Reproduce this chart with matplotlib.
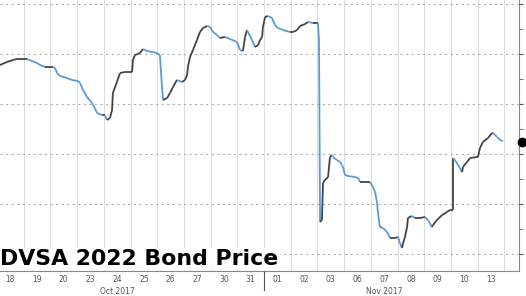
import numpy as np
import matplotlib
matplotlib.use("Agg")
import matplotlib.pyplot as plt
from matplotlib.collections import LineCollection

##Bond price, x is trading-day position (day k spans k..k+1)
day_pos = [0.11, 0.37, 0.60, 0.75, 1.12, 1.31, 1.50, 1.61, 1.80, 2.10,
           2.17, 2.25, 2.36, 2.62, 2.81, 3.03, 3.11, 3.22, 3.37, 3.56,
           3.75, 3.93, 4.04, 4.12, 4.23, 4.31, 4.34, 4.49, 4.61, 4.79,
           5.06, 5.09, 5.17, 5.36, 5.47, 5.62, 5.84, 5.99, 6.10, 6.18,
           6.22, 6.37, 6.48, 6.59, 6.74, 6.93, 7.04, 7.12, 7.15, 7.23,
           7.34, 7.49, 7.60, 7.72, 7.87, 7.98, 8.09, 8.24, 8.35, 8.54,
           8.73, 8.99, 9.10, 9.21, 9.29, 9.36, 9.40, 9.55, 9.66, 9.78,
           9.85, 9.93, 9.96, 10.04, 10.15, 10.30, 10.41, 10.52, 10.71, 10.97,
           11.09, 11.24, 11.35, 11.54, 11.65, 11.84, 11.99, 12.02, 12.06, 12.10,
           12.17, 12.21, 12.28, 12.40, 12.47, 12.55, 12.58, 12.73, 12.85, 12.92,
           12.96, 13.03, 13.15, 13.41, 13.52, 13.60, 13.97, 14.08, 14.16, 14.23,
           14.27, 14.34, 14.46, 14.61, 14.72, 14.91, 15.02, 15.09, 15.17, 15.21,
           15.28, 15.36, 15.39, 15.54, 15.66, 15.84, 16.03, 16.14, 16.29, 16.33,
           16.48, 16.67, 16.85, 16.97, 17.08, 17.08, 17.15, 17.27, 17.42, 17.45,
           17.60, 17.72, 17.98, 18.01, 18.09, 18.20, 18.39, 18.54, 18.58, 18.73,
           18.84, 18.95]
price = [98.9, 99.2, 99.4, 99.5, 99.5, 99.3, 99.1, 98.9, 98.7, 98.7,
         98.6, 98.1, 97.8, 97.6, 97.4, 97.3, 97.1, 96.4, 95.7, 95.1,
         94.1, 93.9, 93.9, 93.4, 93.6, 94.4, 96.1, 97.2, 98.1, 98.2,
         98.2, 99.4, 99.9, 100.1, 100.5, 100.3, 100.2, 100.1, 99.9, 96.7,
         95.4, 95.6, 96.1, 96.7, 97.4, 97.2, 97.4, 97.9, 98.7, 99.7,
         100.4, 101.4, 102.2, 102.6, 102.8, 102.7, 102.2, 101.9, 101.6, 101.7,
         101.5, 101.2, 100.4, 100.3, 101.7, 102.4, 102.2, 101.4, 100.7, 100.9,
         101.4, 101.7, 102.7, 103.7, 103.8, 103.6, 102.9, 102.6, 102.4, 102.2,
         102.2, 102.4, 102.8, 103.0, 103.2, 103.1, 103.1, 103.1, 101.4, 83.2,
         83.4, 87.1, 87.4, 87.7, 89.7, 89.9, 89.7, 89.4, 89.2, 88.9,
         88.7, 87.9, 87.8, 87.7, 87.6, 87.2, 87.2, 86.7, 86.2, 85.2,
         84.1, 82.7, 82.6, 82.2, 81.6, 81.6, 81.7, 81.1, 80.6, 81.1,
         81.7, 82.7, 83.6, 83.8, 83.6, 83.6, 83.7, 83.4, 82.7, 82.9,
         83.4, 83.9, 84.2, 84.4, 84.4, 89.6, 89.4, 88.9, 88.2, 88.7,
         89.2, 89.6, 89.7, 89.7, 90.6, 91.2, 91.6, 92.1, 92.1, 91.7,
         91.4, 91.3]

day_labels = ["18", "19", "20", "23", "24", "25", "26", "27", "30", "31",
              "01", "02", "03", "06", "07", "08", "09", "10", "13"]
month_labels = ["Oct 2017", "Nov 2017"]
month_centers = [4.5, 14.5]
month_split = 10
y_major = [80, 85, 90, 95, 100, 105]
y_minor = [82.5, 87.5, 92.5, 97.5, 102.5]
last_price = 91.2

fig = plt.figure(figsize=(5.26, 2.96), dpi=100)
ax = fig.add_axes([0, 25 / 296, 519 / 526, 271 / 296])

x0 = 3 / 26.7

##Grid
for k in range(1, len(day_labels) + 1):
    ax.axvline(k, color="#dcdcdc", lw=0.7, zorder=1)
for yv in y_major:
    ax.axhline(yv, color="#b0b0b0", lw=0.8, ls=(0, (2, 3)), zorder=1)

##Line coloured by direction
pts = np.column_stack([day_pos, price])
segs = np.stack([pts[:-1], pts[1:]], axis=1)
diff = np.diff(price)
cols = ["#5b9bd5" if d < 0 else "#444444" for d in diff]
lc = LineCollection(segs, colors=cols, linewidths=1.3, zorder=3)
ax.add_collection(lc)

##Last price marker on right axis
ax.plot([x0 + 522 / 26.7], [last_price], "o", color="black", ms=6,
        clip_on=False, zorder=5)

##Axes styling
for s in ["top", "left"]:
    ax.spines[s].set_visible(False)
ax.spines["bottom"].set_color("#888888")
ax.spines["right"].set_color("#888888")
ax.yaxis.tick_right()
ax.set_yticks(y_major)
ax.set_yticks(y_minor, minor=True)
ax.tick_params(axis="y", which="both", length=3, color="#555555",
               labelright=False)
ax.set_xticks([k + 0.5 for k in range(len(day_labels))])
ax.set_xticklabels(day_labels, fontsize=5.5, color="#555555")
ax.tick_params(axis="x", length=0, pad=3)

ax.set_xlim(x0, x0 + 519 / 26.7)
ax.set_ylim(80 - 17 / 10, 80 + 254 / 10)

for lab, c in zip(month_labels, month_centers):
    ax.text(c, -0.06, lab, transform=ax.get_xaxis_transform(),
            ha="center", va="top", fontsize=5.5, color="#555555")
ax.plot([month_split, month_split], [0, -0.07], transform=ax.get_xaxis_transform(),
        color="#555555", lw=0.8, clip_on=False)

fig.text(0.0, (296 - 259) / 296, "DVSA 2022 Bond Price", fontsize=15.8,
         fontweight="bold", color="black", ha="left", va="center",
         bbox=dict(facecolor="white", edgecolor="none", pad=1))

fig.savefig("out.png", dpi=100)
